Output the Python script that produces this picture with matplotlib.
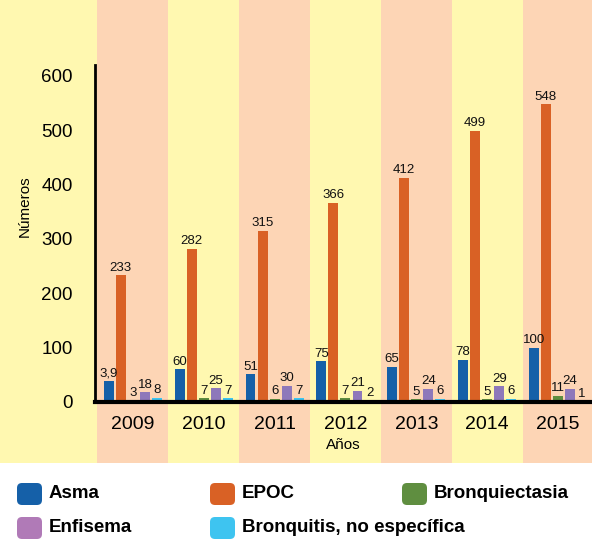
import matplotlib.pyplot as plt
import numpy as np
from matplotlib.patches import FancyBboxPatch, Rectangle

years = ["2009", "2010", "2011", "2012", "2013", "2014", "2015"]
series = ["Asma", "EPOC", "Bronquiectasia", "Enfisema", "Bronquitis, no específica"]

asma = [39, 60, 51, 75, 65, 78, 100]
epoc = [233, 282, 315, 366, 412, 499, 548]
bronquiectasia = [3, 7, 6, 7, 5, 5, 11]
enfisema = [18, 25, 30, 21, 24, 29, 24]
bronquitis = [8, 7, 7, 2, 6, 6, 1]
asma_labels = ["3,9", "60", "51", "75", "65", "78", "100"]

yticks = [0, 100, 200, 300, 400, 500, 600]

bar_colors = ["#1560A8", "#D96125", "#5F8E40", "#8E78BA", "#3EC4F0"]
legend_colors = ["#1560A8", "#D96125", "#5F8E40", "#B07AB7", "#3EC4F0"]
yellow = "#FFF8B0"
peach = "#FDD5B5"

plt.rcParams["font.family"] = ["Liberation Sans", "DejaVu Sans"]

W, H = 592, 543
fig = plt.figure(figsize=(W / 100, H / 100), dpi=100)

# background (pixel coords)
bg = fig.add_axes([0, 0, 1, 1], zorder=-10)
bg.set_xlim(0, W)
bg.set_ylim(H, 0)
bg.axis("off")
bg.add_patch(Rectangle((0, 0), W, 463, color=yellow, lw=0))

ax_bottom, ax_top = 402, 65
ax = fig.add_axes([95 / W, 1 - ax_bottom / H, 1 - 95 / W, (ax_bottom - ax_top) / H])
ax.patch.set_alpha(0)

x = np.arange(len(years))
h = ax_bottom - ax_top
for i in x:
    if i % 2 == 0:
        ax.axvspan(i - 0.5, i + 0.5, ymin=-(463 - ax_bottom) / h, ymax=ax_bottom / h,
                   color=peach, lw=0, clip_on=False, zorder=0)

data = [asma, epoc, bronquiectasia, enfisema, bronquitis]
step = 0.17
width = 0.14
for k, vals in enumerate(data):
    pos = x + (k - 2) * step
    ax.bar(pos, vals, width=width, color=bar_colors[k], zorder=2)
    labels = asma_labels if k == 0 else [str(v) for v in vals]
    for p, v, t in zip(pos, vals, labels):
        ax.text(p, v + 3, t, ha="center", va="bottom", fontsize=9.5,
                color="#111111", zorder=3)

ax.set_xlim(-0.535, 6.48)
ax.set_ylim(0, 620)
ax.set_yticks(yticks)
ax.set_yticklabels([str(t) for t in yticks], fontsize=13.5)
ax.set_xticks(x)
ax.set_xticklabels(years, fontsize=14)
ax.tick_params(axis="both", length=0)
ax.tick_params(axis="y", pad=16)
ax.tick_params(axis="x", pad=10)
ax.set_ylabel("Números", fontsize=11)
ax.yaxis.set_label_coords(-0.127, 0.58)
ax.set_xlabel("Años", fontsize=11, labelpad=4)

for s in ["top", "right"]:
    ax.spines[s].set_visible(False)
ax.spines["left"].set_linewidth(2)
ax.spines["bottom"].set_linewidth(3)

# legend drawn in pixel coords
lg = fig.add_axes([0, 0, 1, 80 / H], zorder=5)
lg.set_xlim(0, W)
lg.set_ylim(H, H - 80)
lg.axis("off")
legend_pos = [(16, 494), (209, 494), (401, 494), (16, 528), (209, 528)]
for name, col, (lx, ly) in zip(series, legend_colors, legend_pos):
    lg.add_patch(FancyBboxPatch((lx + 1, ly - 11), 25, 22,
                                boxstyle="round,pad=0,rounding_size=5",
                                fc=col, ec="none"))
    lg.text(lx + 33, ly, name, fontsize=13.5, fontweight="bold", va="center", ha="left")

fig.savefig("out.png", dpi=100)
